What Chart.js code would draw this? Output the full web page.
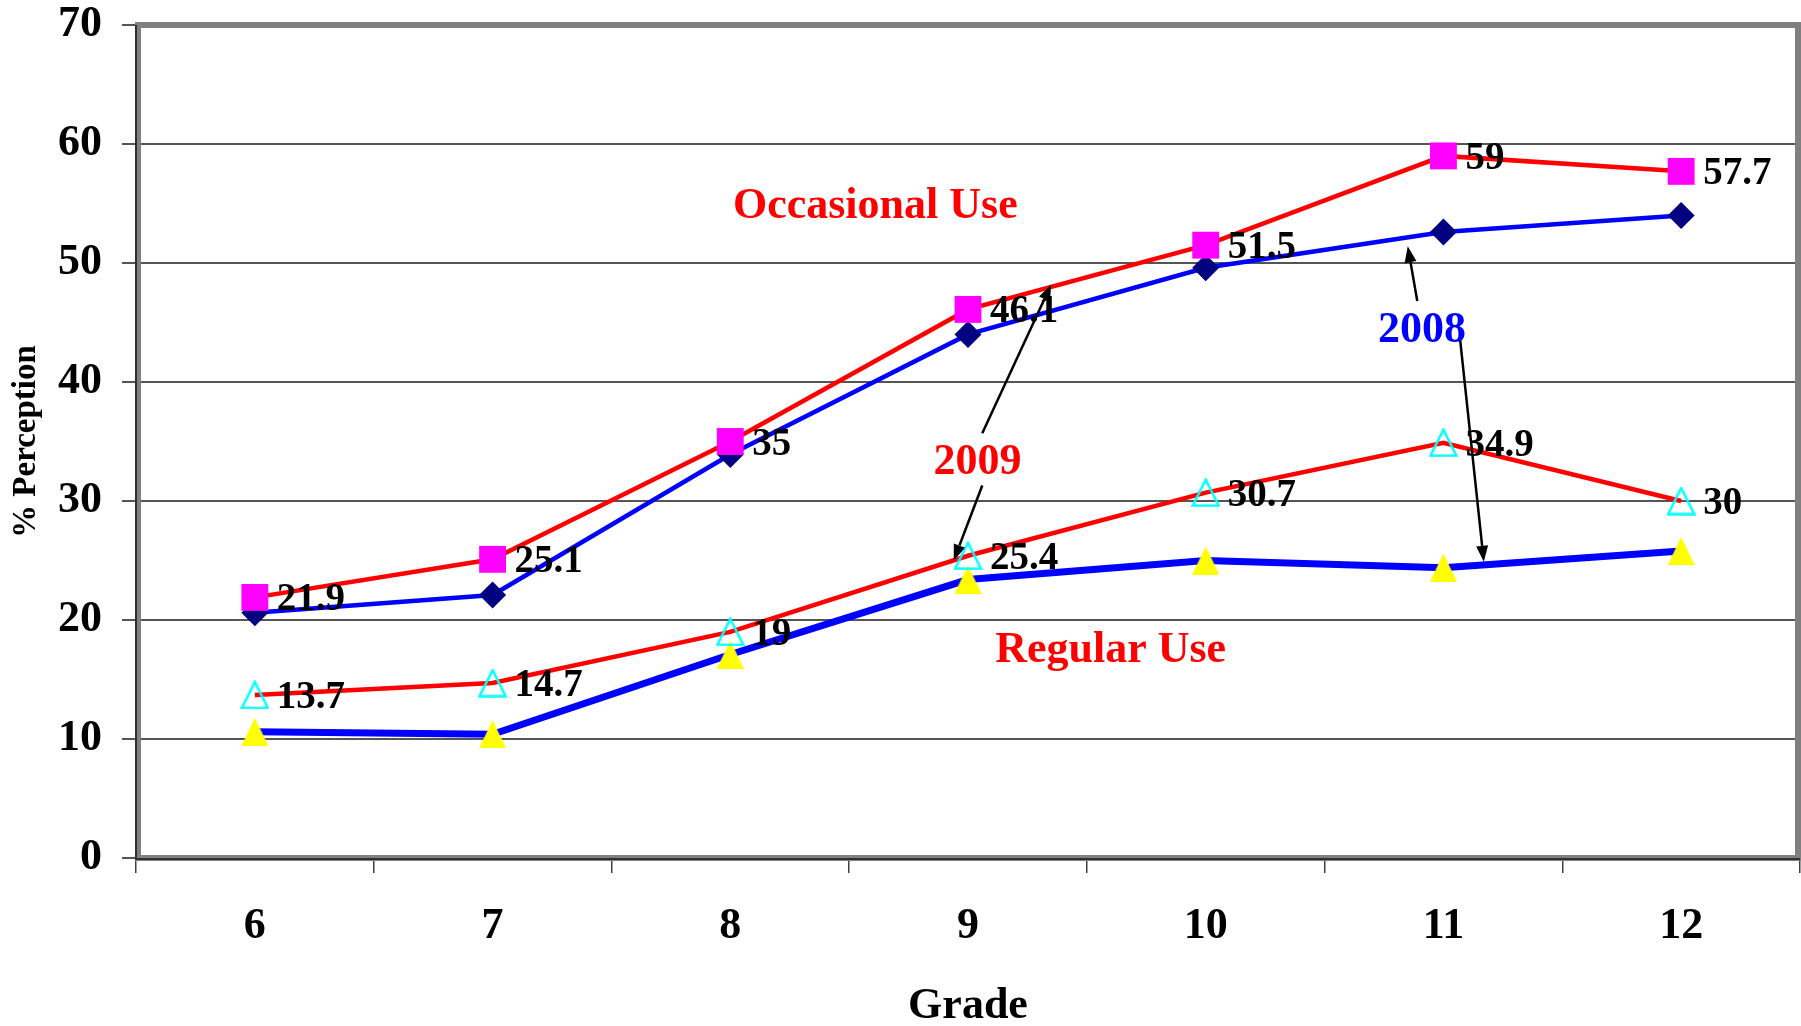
<!DOCTYPE html>
<html>
<head>
<meta charset="utf-8">
<title>% Perception by Grade</title>
<script src="https://cdn.jsdelivr.net/npm/chart.js@4.4.0/dist/chart.umd.min.js"></script>
<style>
  body { margin: 0; background: #fff; }
  canvas { display: block; }
</style>
</head>
<body>
<canvas id="chart" width="1801" height="1026"></canvas>
<script>
const grades = ['6', '7', '8', '9', '10', '11', '12'];
const yTicks = [0, 10, 20, 30, 40, 50, 60, 70];

const occasional2009 = [21.9, 25.1, 35, 46.1, 51.5, 59, 57.7];
const regular2009 = [13.7, 14.7, 19, 25.4, 30.7, 34.9, 30];
const occasional2008 = [20.6, 22.1, 33.9, 44.0, 49.6, 52.6, 54.0];
const regular2008 = [10.6, 10.4, 17.1, 23.4, 25.0, 24.4, 25.8];

// callouts, placed in chart units: [category index, value]
const notes = [
  {text: 'Occasional Use', color: '#FF0000', at: [2.61, 54.7]},
  {text: 'Regular Use', color: '#FF0000', at: [3.60, 17.4]},
  {text: '2009', color: '#FF0000', at: [3.04, 33.2]},
  {text: '2008', color: '#0000FF', at: [4.91, 44.3]}
];
const arrows = [
  [[3.06, 35.7], [3.35, 48.2]],
  [[3.06, 31.3], [2.94, 25.0]],
  [[4.89, 46.8], [4.85, 51.4]],
  [[5.07, 43.6], [5.17, 24.9]]
];

const serif = '"Liberation Serif", "Times New Roman", serif';

// triangle markers as small canvases
function triangle(w, h, fill, stroke) {
  const c = document.createElement('canvas');
  c.width = w; c.height = h;
  const g = c.getContext('2d');
  const m = stroke ? 1.5 : 0;
  g.beginPath();
  g.moveTo(w / 2, m);
  g.lineTo(w - m, h - m);
  g.lineTo(m, h - m);
  g.closePath();
  if (fill) { g.fillStyle = fill; g.fill(); }
  if (stroke) { g.strokeStyle = stroke; g.lineWidth = 2.5; g.stroke(); }
  return c;
}
const yellowTriangle = triangle(27, 28, '#FFFF00', null);
const cyanTriangle = triangle(29, 29, null, '#00FFFF');

function drawArrow(ctx, x1, y1, x2, y2) {
  const ang = Math.atan2(y2 - y1, x2 - x1);
  const len = 16, half = 6;
  const bx = x2 - Math.cos(ang) * len, by = y2 - Math.sin(ang) * len;
  ctx.beginPath();
  ctx.moveTo(x1, y1);
  ctx.lineTo(bx, by);
  ctx.stroke();
  ctx.beginPath();
  ctx.moveTo(x2, y2);
  ctx.lineTo(bx - Math.sin(ang) * half, by + Math.cos(ang) * half);
  ctx.lineTo(bx + Math.sin(ang) * half, by - Math.cos(ang) * half);
  ctx.closePath();
  ctx.fill();
}

const decorations = {
  id: 'decorations',
  beforeDatasetsDraw(chart) {
    const {ctx, chartArea: a} = chart;
    ctx.save();
    // grey plot frame
    ctx.strokeStyle = '#808080';
    ctx.lineWidth = 6;
    ctx.strokeRect(a.left + 2, a.top, a.right - a.left - 4, a.bottom - a.top);
    // dark axis lines
    ctx.strokeStyle = '#303030';
    ctx.lineWidth = 2;
    ctx.beginPath();
    ctx.moveTo(a.left, a.top);
    ctx.lineTo(a.left, a.bottom + 1);
    ctx.lineTo(a.right, a.bottom + 1);
    ctx.stroke();
    ctx.restore();
  },
  afterDatasetsDraw(chart) {
    const {ctx, scales: {x, y}} = chart;
    ctx.save();
    // value labels on the 2009 series
    ctx.font = 'bold 39px ' + serif;
    ctx.fillStyle = '#000';
    ctx.textAlign = 'left';
    ctx.textBaseline = 'middle';
    [0, 1].forEach(i => {
      const ds = chart.data.datasets[i];
      chart.getDatasetMeta(i).data.forEach((pt, j) => {
        ctx.fillText(String(ds.data[j]), pt.x + 22, pt.y + 3);
      });
    });
    // arrows
    ctx.strokeStyle = '#000';
    ctx.fillStyle = '#000';
    ctx.lineWidth = 2.5;
    arrows.forEach(([from, to]) => {
      drawArrow(ctx, x.getPixelForValue(from[0]), y.getPixelForValue(from[1]),
        x.getPixelForValue(to[0]), y.getPixelForValue(to[1]));
    });
    // callout text
    ctx.font = 'bold 44px ' + serif;
    ctx.textAlign = 'center';
    notes.forEach(n => {
      ctx.fillStyle = n.color;
      ctx.fillText(n.text, x.getPixelForValue(n.at[0]), y.getPixelForValue(n.at[1]));
    });
    ctx.restore();
  }
};

new Chart(document.getElementById('chart'), {
  type: 'line',
  data: {
    labels: grades,
    datasets: [
      {
        label: 'Occasional Use 2009',
        data: occasional2009,
        borderColor: '#FF0000',
        borderWidth: 4.5,
        pointStyle: 'rect',
        pointRadius: 19,
        pointBackgroundColor: '#FF00FF',
        pointBorderColor: '#FF00FF',
        pointBorderWidth: 0
      },
      {
        label: 'Regular Use 2009',
        data: regular2009,
        borderColor: '#FF0000',
        borderWidth: 4.5,
        pointStyle: cyanTriangle
      },
      {
        label: 'Occasional Use 2008',
        data: occasional2008,
        borderColor: '#0000FF',
        borderWidth: 4.5,
        pointStyle: 'rectRot',
        pointRadius: 13.5,
        pointBackgroundColor: '#000080',
        pointBorderColor: '#000080',
        pointBorderWidth: 0
      },
      {
        label: 'Regular Use 2008',
        data: regular2008,
        borderColor: '#0000FF',
        borderWidth: 7,
        pointStyle: yellowTriangle
      }
    ]
  },
  options: {
    responsive: false,
    animation: false,
    events: [],
    layout: {autoPadding: false, padding: {top: 25, right: 1, left: 0, bottom: 0}},
    plugins: {
      legend: {display: false},
      tooltip: {enabled: false}
    },
    scales: {
      x: {
        offset: true,
        grid: {offset: true, drawOnChartArea: false, drawTicks: true, tickLength: 15, color: '#404040', lineWidth: 1.5},
        border: {display: false},
        ticks: {color: '#000', padding: 27, maxRotation: 0, autoSkip: false,
          font: {family: serif, size: 44, weight: 'bold'}},
        title: {display: true, text: 'Grade', color: '#000', padding: {top: 0, bottom: 0},
          font: {family: serif, size: 44, weight: 'bold', lineHeight: 0.9}},
        afterFit(scale) {
          scale.height = 168;
          scale.paddingLeft = 0;
          scale.paddingRight = 0;
        }
      },
      y: {
        min: 0,
        max: 70,
        afterBuildTicks(scale) { scale.ticks = yTicks.map(v => ({value: v})); },
        grid: {color: '#555', lineWidth: 2, tickLength: 14},
        border: {display: false},
        ticks: {color: '#000', padding: 20, font: {family: serif, size: 44, weight: 'bold'}},
        title: {display: true, text: '% Perception', color: '#000', padding: {top: 7, bottom: 0},
          font: {family: serif, size: 33, weight: 'bold'}},
        afterFit(scale) {
          scale.width = 136;
          scale.paddingTop = 0;
          scale.paddingBottom = 0;
        }
      }
    }
  },
  plugins: [decorations]
});
</script>
</body>
</html>
